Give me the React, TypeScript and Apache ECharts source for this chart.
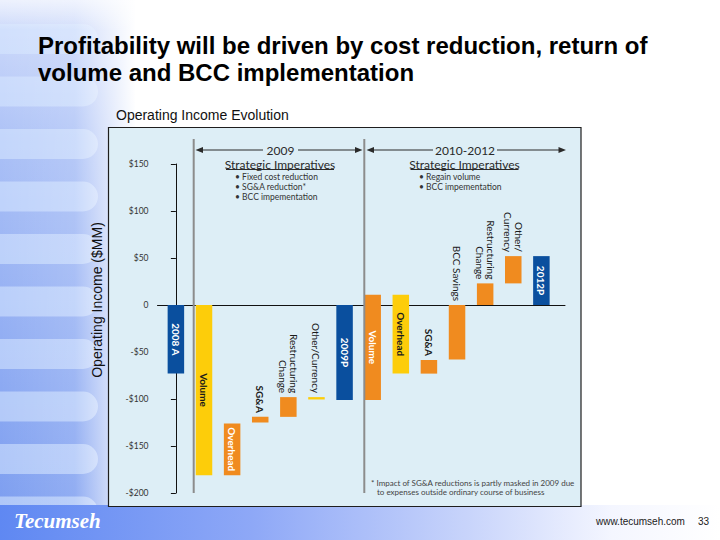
import React, { useEffect, useRef } from "react";
import * as echarts from "echarts";

// ---------- data ----------
const categories = [
  "2008 A", "Volume", "Overhead", "SG&A", "Restructuring\nChange", "Other/Currency", "2009P",
  "Volume", "Overhead", "SG&A", "BCC Savings", "Restructuring\nChange", "Other/\nCurrency", "2012P",
];
// bottom and top of each floating bar ($MM)
const barLow = [-73, -181, -181, -125, -119, -100.5, -101, -101, -73, -73, -58, 0, 23, 0];
const barHigh = [0, 0, -126, -119, -98, -98, 0, 11, 11, -58.5, 0, 23, 52, 52];
const barKind = ["total", "vol", "cost", "cost", "cost", "vol", "total", "cost", "vol", "cost", "cost", "cost", "cost", "total"];
const labelPlace = ["inside", "inside", "inside", "top", "top", "top", "inside", "inside", "inside", "top", "top", "top", "top", "inside"];
const yTicks = [-200, -150, -100, -50, 0, 50, 100, 150];
const yTickLabels = ["-$200", "-$150", "-$100", "-$50", "0", "$50", "$100", "$150"];

const bullets2009 = ["• Fixed cost reduction", "• SG&A reduction*", "• BCC impementation"];
const bullets2010 = ["• Regain volume", "• BCC impementation"];

// ---------- styles ----------
const kindColor: Record<string, string> = { total: "#0a4f9e", vol: "#fdcd0a", cost: "#f08b1f" };
const FONT = "Lato";
const BAR_W = 16.5;

export default function App() {
  const ref = useRef<HTMLDivElement>(null);
  useEffect(() => {
    document.body.style.margin = "0";
    const chart = echarts.init(ref.current!, null, { renderer: "svg", width: 720, height: 540 });

    const lg = (x2: number, y2: number, stops: [number, string][]) =>
      new echarts.graphic.LinearGradient(0, 0, x2, y2, stops.map(([offset, color]) => ({ offset, color })));

    const stripes: any[] = [];
    for (let k = 0; k < 10; k++) {
      stripes.push({
        type: "rect",
        z: -9,
        shape: { x: -20, y: 24 + k * 52.5, width: 118, height: 30, r: 15 },
        style: { fill: "rgba(215,232,255,0.55)" },
      });
    }

    const annColor = "#2a2a2a";
    const arrowY = 150;

    const graphic: any[] = [
      // slide background
      {
        type: "rect", z: -10,
        shape: { x: 0, y: 0, width: 135, height: 510 },
        style: { fill: lg(0, 1, [[0, "#d3defb"], [0.3, "#a9bff6"], [1, "#7d9ef0"]]) },
      },
      ...stripes,
      {
        type: "rect", z: -8,
        shape: { x: 0, y: 0, width: 136, height: 510 },
        style: { fill: lg(1, 0, [[0, "rgba(255,255,255,0)"], [0.55, "rgba(255,255,255,0.15)"], [1, "rgba(255,255,255,1)"]]) },
      },
      {
        type: "rect", z: -8,
        shape: { x: 0, y: 0, width: 720, height: 30 },
        style: { fill: lg(0, 1, [[0, "rgba(255,255,255,0.6)"], [1, "rgba(255,255,255,0)"]]) },
      },
      {
        type: "rect", z: -7,
        shape: { x: 0, y: 505, width: 720, height: 35 },
        style: { fill: lg(1, 0, [[0, "#5f88f2"], [0.35, "#8ea8f7"], [0.65, "#c8d4fb"], [0.85, "#f4f6ff"], [1, "#ffffff"]]) },
      },
      // chart panel
      {
        type: "rect", z: -5,
        shape: { x: 108.5, y: 127.5, width: 472.5, height: 379 },
        style: { fill: "#ddeef6", stroke: "#1e1e1e", lineWidth: 1.2 },
      },
      // titles
      {
        type: "text", z: 10, x: 38, y: 32,
        style: {
          text: "Profitability will be driven by cost reduction, return of\nvolume and BCC implementation",
          font: "bold 24px 'Liberation Sans', Arial, sans-serif",
          lineHeight: 27, fill: "#000",
        },
      },
      {
        type: "text", z: 10, x: 116, y: 115,
        style: { text: "Operating Income Evolution", font: "14px 'Liberation Sans', Arial, sans-serif", fill: "#111", verticalAlign: "middle" },
      },
      {
        type: "text", z: 10, x: 97, y: 300, rotation: Math.PI / 2,
        style: { text: "Operating Income ($MM)", font: "14px 'Liberation Sans', Arial, sans-serif", fill: "#111", align: "center", verticalAlign: "middle" },
      },
      // separators
      { type: "line", z: 5, shape: { x1: 193.7, y1: 139, x2: 193.7, y2: 493 }, style: { stroke: "#8c8c8c", lineWidth: 2 } },
      { type: "line", z: 5, shape: { x1: 364.3, y1: 139, x2: 364.3, y2: 493 }, style: { stroke: "#8c8c8c", lineWidth: 2 } },
      // 2009 arrow
      { type: "line", z: 10, shape: { x1: 200, y1: arrowY, x2: 263, y2: arrowY }, style: { stroke: annColor, lineWidth: 1 } },
      { type: "line", z: 10, shape: { x1: 298, y1: arrowY, x2: 357, y2: arrowY }, style: { stroke: annColor, lineWidth: 1 } },
      { type: "polygon", z: 10, shape: { points: [[195.5, arrowY], [203, arrowY - 3], [203, arrowY + 3]] }, style: { fill: annColor } },
      { type: "polygon", z: 10, shape: { points: [[362.5, arrowY], [355, arrowY - 3], [355, arrowY + 3]] }, style: { fill: annColor } },
      { type: "text", z: 10, x: 280.5, y: arrowY, style: { text: "2009", font: `12px ${FONT}`, fill: annColor, align: "center", verticalAlign: "middle" } },
      // 2010-2012 arrow
      { type: "line", z: 10, shape: { x1: 371, y1: arrowY, x2: 433, y2: arrowY }, style: { stroke: annColor, lineWidth: 1 } },
      { type: "line", z: 10, shape: { x1: 497, y1: arrowY, x2: 561, y2: arrowY }, style: { stroke: annColor, lineWidth: 1 } },
      { type: "polygon", z: 10, shape: { points: [[366.5, arrowY], [374, arrowY - 3], [374, arrowY + 3]] }, style: { fill: annColor } },
      { type: "polygon", z: 10, shape: { points: [[566, arrowY], [558.5, arrowY - 3], [558.5, arrowY + 3]] }, style: { fill: annColor } },
      { type: "text", z: 10, x: 465, y: arrowY, style: { text: "2010-2012", font: `12px ${FONT}`, fill: annColor, align: "center", verticalAlign: "middle" } },
      // Strategic Imperatives
      { type: "text", z: 10, x: 280, y: 164, style: { text: "Strategic Imperatives", font: `12px ${FONT}`, fill: annColor, align: "center", verticalAlign: "middle" } },
      { type: "line", z: 10, shape: { x1: 226, y1: 169.5, x2: 334, y2: 169.5 }, style: { stroke: annColor, lineWidth: 1 } },
      { type: "text", z: 10, x: 464.5, y: 164, style: { text: "Strategic Imperatives", font: `12px ${FONT}`, fill: annColor, align: "center", verticalAlign: "middle" } },
      { type: "line", z: 10, shape: { x1: 410.5, y1: 169.5, x2: 518.5, y2: 169.5 }, style: { stroke: annColor, lineWidth: 1 } },
      ...bullets2009.map((t, k) => ({
        type: "text", z: 10, x: 235, y: 177.3 + k * 10,
        style: { text: t, font: `8.5px ${FONT}`, fill: "#333", verticalAlign: "middle" },
      })),
      ...bullets2010.map((t, k) => ({
        type: "text", z: 10, x: 419, y: 177.3 + k * 10,
        style: { text: t, font: `8.5px ${FONT}`, fill: "#333", verticalAlign: "middle" },
      })),
      // footnote
      { type: "text", z: 10, x: 371, y: 482.7, style: { text: "* Impact of SG&A reductions is partly masked in 2009 due", font: `8px ${FONT}`, fill: "#444", verticalAlign: "middle" } },
      { type: "text", z: 10, x: 377, y: 492.3, style: { text: "to expenses outside ordinary course of business", font: `8px ${FONT}`, fill: "#444", verticalAlign: "middle" } },
      // footer
      { type: "text", z: 10, x: 14, y: 521, style: { text: "Tecumseh", font: "italic bold 21px 'Liberation Serif', serif", fill: "#ffffff", verticalAlign: "middle" } },
      { type: "text", z: 10, x: 596, y: 521, style: { text: "www.tecumseh.com", font: "10px 'Liberation Sans', Arial, sans-serif", fill: "#222", verticalAlign: "middle" } },
      { type: "text", z: 10, x: 698, y: 521, style: { text: "33", font: "10px 'Liberation Sans', Arial, sans-serif", fill: "#222", verticalAlign: "middle" } },
    ];

    const renderBar = (params: any, api: any) => {
      const i = params.dataIndex;
      const x = api.value(0);
      const lo = api.value(1);
      const hi = api.value(2);
      const pTop = api.coord([x, hi]);
      const pBot = api.coord([x, lo]);
      const kind = barKind[i];
      const inside = labelPlace[i] === "inside";
      const onDark = kind === "total" || (kind === "cost" && inside);
      return {
        type: "rect",
        shape: { x: pTop[0] - BAR_W / 2, y: pTop[1], width: BAR_W, height: Math.max(pBot[1] - pTop[1], 0.5) },
        style: { fill: kindColor[kind] },
        textContent: {
          style: {
            text: categories[i],
            fontFamily: FONT,
            fontSize: 10,
            lineHeight: 11,
            fontWeight: inside || categories[i] === "SG&A" ? "bold" : "normal",
            fill: inside ? (onDark ? "#ffffff" : "#1a1a1a") : "#1a1a1a",
            align: inside ? "center" : "right",
            verticalAlign: "middle",
          },
        },
        textConfig: {
          position: inside ? "inside" : "top",
          rotation: -Math.PI / 2,
          distance: 4,
        },
      };
    };

    chart.setOption({
      animation: false,
      backgroundColor: "#ffffff",
      grid: { left: 157.5, top: 164, width: 407.5, height: 329, containLabel: false },
      xAxis: {
        type: "value",
        min: -0.654,
        max: 13.84,
        axisLine: { show: true, onZero: true, lineStyle: { color: "#111", width: 1 } },
        axisTick: { show: false },
        axisLabel: { show: false },
        splitLine: { show: false },
      },
      yAxis: {
        type: "value",
        min: yTicks[0],
        max: yTicks[yTicks.length - 1],
        interval: 50,
        axisLine: { show: true, lineStyle: { color: "#111", width: 1 } },
        axisTick: { show: true, length: 5, lineStyle: { color: "#111" } },
        axisLabel: {
          margin: 9,
          fontFamily: FONT,
          fontSize: 8.5,
          color: "#333",
          formatter: (v: number) => yTickLabels[yTicks.indexOf(v)] ?? "",
        },
        splitLine: { show: false },
      },
      series: [
        {
          type: "custom",
          name: "Operating income bridge",
          renderItem: renderBar,
          encode: { x: 0, y: [1, 2] },
          data: barLow.map((lo, i) => [i, lo, barHigh[i]]),
          z: 3,
        },
      ],
      graphic,
    });
    return () => chart.dispose();
  }, []);
  return <div ref={ref} style={{ width: 720, height: 540 }} />;
}
